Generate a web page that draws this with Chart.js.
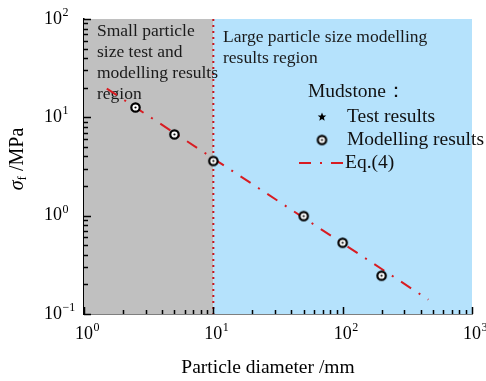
<!DOCTYPE html>
<html>
<head>
<meta charset="utf-8">
<script src="https://cdn.jsdelivr.net/npm/chart.js@4.4.0/dist/chart.umd.min.js"></script>
<style>
  html, body { margin: 0; padding: 0; background: #fff; }
  #wrap { width: 486px; height: 381px; }
</style>
</head>
<body>
<div id="wrap"><canvas id="myChart" width="486" height="381"></canvas></div>
<script>
// data
var modelDiameter = [2.5, 5, 10, 50, 100, 200];
var modelStrength = [12.6, 6.7, 3.6, 0.99, 0.53, 0.245];
var eqDiameter = [1.5, 460];
var eqStrength = [19.6, 0.14];
var testDiameter = [];
var testStrength = [];
var boundaryDiameter = 10;
var xTickExp = [0, 1, 2, 3];
var yTickExp = [-1, 0, 1, 2];

var serif = "'Liberation Serif', 'Times New Roman', serif";
var red = '#d81c22';

function toPoints(xs, ys) {
    var pts = [];
    for (var i = 0; i < xs.length; i++) {
        pts.push({x: xs[i], y: ys[i]});
    }
    return pts;
}

// ring marker with a dot in the middle
var ring = document.createElement('canvas');
ring.width = 13;
ring.height = 13;
var rc = ring.getContext('2d');
rc.beginPath();
rc.arc(6.5, 6.5, 4.2, 0, Math.PI * 2);
rc.fillStyle = '#fff';
rc.fill();
rc.lineWidth = 2.2;
rc.strokeStyle = '#000';
rc.stroke();
rc.beginPath();
rc.arc(6.5, 6.5, 1.1, 0, Math.PI * 2);
rc.fillStyle = '#000';
rc.fill();

function drawPow(ctx, x, y, base, exp, align) {
    ctx.save();
    ctx.fillStyle = '#000';
    ctx.textBaseline = 'middle';
    ctx.font = '18px ' + serif;
    var w = ctx.measureText(base).width;
    var x0 = align === 'center' ? x - w / 2 : x;
    ctx.textAlign = 'left';
    ctx.fillText(base, x0, y);
    ctx.font = '12px ' + serif;
    ctx.fillText(exp, x0 + w + 0.5, y - 6);
    ctx.restore();
}

var regions = {
    id: 'regions',
    beforeDatasetsDraw: function (chart) {
        var ctx = chart.ctx, a = chart.chartArea;
        var xb = chart.scales.x.getPixelForValue(boundaryDiameter);
        ctx.save();
        ctx.fillStyle = '#c0c0c0';
        ctx.fillRect(a.left, a.top, xb - a.left, a.bottom - a.top);
        ctx.fillStyle = '#b5e2fc';
        ctx.fillRect(xb, a.top, a.right - xb, a.bottom - a.top);
        ctx.strokeStyle = '#c8141c';
        ctx.lineWidth = 2;
        ctx.setLineDash([2, 4]);
        ctx.beginPath();
        ctx.moveTo(xb, a.top);
        ctx.lineTo(xb, a.bottom);
        ctx.stroke();
        ctx.setLineDash([]);

        ctx.fillStyle = '#1a1a1a';
        ctx.font = '17.5px ' + serif;
        ctx.textBaseline = 'middle';
        var small = ['Small particle', 'size test and', 'modelling results', 'region'];
        for (var i = 0; i < small.length; i++) {
            ctx.fillText(small[i], 97, 31 + i * 21);
        }
        var large = ['Large particle size modelling', 'results region'];
        for (var j = 0; j < large.length; j++) {
            ctx.fillText(large[j], 223, 37 + j * 21);
        }
        ctx.restore();
    },
    afterDraw: function (chart) {
        var ctx = chart.ctx, a = chart.chartArea;
        var sx = chart.scales.x, sy = chart.scales.y;
        ctx.save();
        ctx.strokeStyle = '#000';
        ctx.lineWidth = 1.5;
        ctx.beginPath();
        // inward ticks
        for (var e = 0; e < 3; e++) {
            for (var m = 1; m <= 10; m++) {
                var v = m * Math.pow(10, e);
                var px = Math.round(sx.getPixelForValue(v)) + 0.5;
                var len = (m === 1 || m === 10) ? 7 : 4;
                ctx.moveTo(px, a.bottom);
                ctx.lineTo(px, a.bottom - len);
            }
        }
        for (var e2 = -1; e2 < 2; e2++) {
            for (var m2 = 1; m2 <= 10; m2++) {
                var v2 = m2 * Math.pow(10, e2);
                var py = Math.round(sy.getPixelForValue(v2)) + 0.5;
                var len2 = (m2 === 1 || m2 === 10) ? 7 : 4;
                ctx.moveTo(a.left, py);
                ctx.lineTo(a.left + len2, py);
            }
        }
        ctx.stroke();

        xTickExp.forEach(function (k) {
            drawPow(ctx, sx.getPixelForValue(Math.pow(10, k)), a.bottom + 20, '10', String(k), 'center');
        });
        yTickExp.forEach(function (k) {
            drawPow(ctx, 44, sy.getPixelForValue(Math.pow(10, k)), '10', k < 0 ? '\u2212' + (-k) : String(k), 'left');
        });

        // axis titles
        ctx.fillStyle = '#000';
        ctx.textBaseline = 'middle';
        ctx.textAlign = 'center';
        ctx.font = '19.5px ' + serif;
        ctx.fillText('Particle diameter /mm', 268, 368);

        ctx.save();
        ctx.translate(18, 159);
        ctx.rotate(-Math.PI / 2);
        ctx.textAlign = 'left';
        var s1 = '\u03c3';
        ctx.font = 'italic 20px ' + serif;
        var w1 = ctx.measureText(s1).width;
        ctx.font = '13px ' + serif;
        var w2 = ctx.measureText('f').width;
        ctx.font = '20px ' + serif;
        var w3 = ctx.measureText(' /MPa').width;
        var x0 = -(w1 + w2 + w3) / 2;
        ctx.font = 'italic 20px ' + serif;
        ctx.fillText(s1, x0, 0);
        ctx.font = '13px ' + serif;
        ctx.fillText('f', x0 + w1, 5);
        ctx.font = '20px ' + serif;
        ctx.fillText(' /MPa', x0 + w1 + w2, 0);
        ctx.restore();

        // legend
        var ds = chart.data.datasets;
        ctx.textAlign = 'left';
        ctx.font = '19.5px ' + serif;
        ctx.fillStyle = '#111';
        ctx.fillText('Mudstone\uff1a', 308, 92);
        ctx.fillText(ds[2].label, 347, 117);
        ctx.fillText(ds[1].label, 347, 140);
        ctx.fillText(ds[0].label, 345, 163);

        // star marker
        ctx.beginPath();
        for (var i = 0; i < 10; i++) {
            var r = i % 2 === 0 ? 4.5 : 2;
            var ang = -Math.PI / 2 + i * Math.PI / 5;
            var qx = 322 + r * Math.cos(ang), qy = 117 + r * Math.sin(ang);
            if (i === 0) ctx.moveTo(qx, qy); else ctx.lineTo(qx, qy);
        }
        ctx.closePath();
        ctx.fillStyle = '#000';
        ctx.fill();
        ctx.drawImage(ring, 322 - 6.5, 140 - 6.5);

        ctx.strokeStyle = ds[0].borderColor;
        ctx.lineWidth = 2;
        ctx.setLineDash(ds[0].borderDash);
        ctx.beginPath();
        ctx.moveTo(299, 163);
        ctx.lineTo(344, 163);
        ctx.stroke();
        ctx.restore();
    }
};

var ctx = document.getElementById('myChart');
var myChart = new Chart(ctx, {
    type: 'scatter',
    data: {
        datasets: [{
                label: 'Eq.(4)',
                data: toPoints(eqDiameter, eqStrength),
                showLine: true,
                borderColor: red,
                borderWidth: 2,
                borderDash: [12, 9, 2, 9],
                pointRadius: 0,
                order: 2
            }, {
                label: 'Modelling results',
                data: toPoints(modelDiameter, modelStrength),
                pointStyle: ring,
                pointRadius: 6,
                order: 1
            }, {
                label: 'Test results',
                data: toPoints(testDiameter, testStrength),
                pointStyle: 'star',
                borderColor: '#000',
                pointRadius: 4
            }]
    },
    options: {
        responsive: false,
        animation: false,
        layout: {padding: {left: 84, top: 19, right: 14, bottom: 67}},
        plugins: {legend: {display: false}, tooltip: {enabled: false}},
        scales: {
            x: {
                type: 'logarithmic', min: 1, max: 1000,
                ticks: {display: false},
                grid: {display: false},
                border: {display: true, color: '#000', width: 1.5},
                afterFit: function (s) { s.height = 0; }
            },
            y: {
                type: 'logarithmic', min: 0.1, max: 100,
                ticks: {display: false},
                grid: {display: false},
                border: {display: true, color: '#000', width: 1.5},
                afterFit: function (s) { s.width = 0; }
            }
        }
    },
    plugins: [regions]
});
</script>
</body>
</html>
